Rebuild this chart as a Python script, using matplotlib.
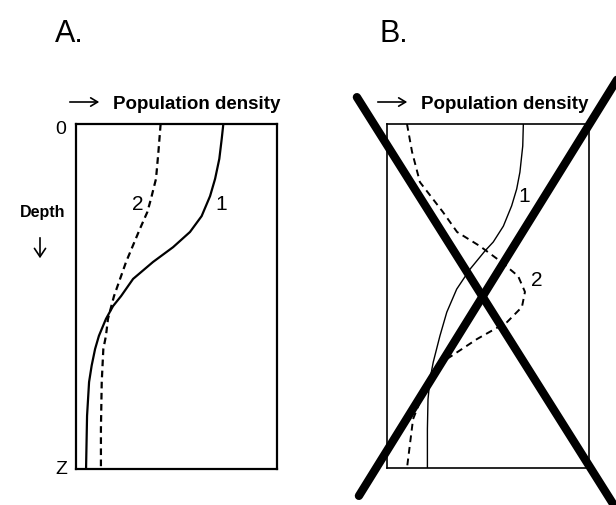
import matplotlib
matplotlib.use("Agg")
import matplotlib.pyplot as plt

plt.rcParams["font.family"] = ["Liberation Sans", "DejaVu Sans"]

W, H = 616, 506

# depth (0 = surface, 1 = bottom z) and relative density
depth_a1 = [0.0, 0.043, 0.101, 0.159, 0.209, 0.267, 0.313, 0.357, 0.400,
            0.449, 0.499, 0.528, 0.565, 0.614, 0.652, 0.700, 0.748, 0.846, 1.0]
dens_a1 = [0.733, 0.725, 0.713, 0.692, 0.667, 0.625, 0.567, 0.483, 0.383,
           0.284, 0.224, 0.184, 0.149, 0.114, 0.095, 0.078, 0.065, 0.055, 0.05]
depth_a2 = [0.0, 0.081, 0.159, 0.217, 0.255, 0.304, 0.400, 0.499, 0.565, 0.614,
            0.652, 0.748, 0.884, 1.0]
dens_a2 = [0.421, 0.41, 0.398, 0.373, 0.355, 0.318, 0.249, 0.189, 0.159, 0.149,
           0.136, 0.128, 0.124, 0.124]

depth_b1 = [0.0, 0.064, 0.14, 0.189, 0.238, 0.297, 0.343, 0.369, 0.422, 0.48,
            0.547, 0.616, 0.692, 0.741, 0.80, 0.887, 1.0]
dens_b1 = [0.675, 0.672, 0.658, 0.642, 0.617, 0.576, 0.526, 0.485, 0.411, 0.345,
           0.296, 0.262, 0.229, 0.213, 0.203, 0.20, 0.20]
depth_b2 = [0.0, 0.081, 0.169, 0.256, 0.314, 0.355, 0.398, 0.442, 0.488, 0.532,
            0.576, 0.625, 0.683, 0.733, 0.858, 1.0]
dens_b2 = [0.099, 0.124, 0.163, 0.277, 0.347, 0.46, 0.559, 0.649, 0.683, 0.668,
           0.594, 0.446, 0.297, 0.213, 0.129, 0.099]

# the two strokes crossing out panel B, in panel B units
cross1_x = [-0.149, 1.163]
cross1_y = [-0.078, 1.145]
cross2_x = [-0.139, 1.178]
cross2_y = [1.081, -0.166]


def px(x, y):
    return x / W, 1 - y / H


fig = plt.figure(figsize=(W / 100, H / 100), dpi=100)

axA = fig.add_axes([76 / W, 1 - 470 / H, 201 / W, 345 / H])
axB = fig.add_axes([387 / W, 1 - 469 / H, 202 / W, 344 / H])

for ax, lw in ((axA, 1.6), (axB, 1.2)):
    ax.set_xlim(0, 1)
    ax.set_ylim(1, 0)
    ax.set_xticks([])
    ax.set_yticks([])
    for s in ax.spines.values():
        s.set_linewidth(lw)
        s.set_color("black")

axA.plot(dens_a1, depth_a1, color="black", lw=1.6)
axA.plot(dens_a2, depth_a2, color="black", lw=1.6, ls=(0, (3, 2)))
axB.plot(dens_b1, depth_b1, color="black", lw=1.0)
axB.plot(dens_b2, depth_b2, color="black", lw=1.4, ls=(0, (3.5, 2.5)))

axB.plot(cross1_x, cross1_y, color="black", lw=6, solid_capstyle="round", clip_on=False)
axB.plot(cross2_x, cross2_y, color="black", lw=6, solid_capstyle="round", clip_on=False)

# curve labels
fig.text(*px(138, 204), "2", fontsize=15, ha="center", va="center")
fig.text(*px(221, 204), "1", fontsize=15, ha="center", va="center")
fig.text(*px(524, 197), "1", fontsize=15, ha="center", va="center")
fig.text(*px(537, 280), "2", fontsize=15, ha="center", va="center")

# panel letters
fig.text(*px(55, 42), "A.", fontsize=22, ha="left", va="baseline")
fig.text(*px(380, 42), "B.", fontsize=22, ha="left", va="baseline")

# axis captions
for x0, xt in ((67, 113), (375, 421)):
    fig.text(*px(xt, 109), "Population density", fontsize=13.5, ha="left",
             va="baseline", fontweight="bold")
    fig.add_artist(matplotlib.patches.FancyArrowPatch(
        px(x0, 103), px(x0 + 35, 103), transform=fig.transFigure,
        arrowstyle="->,head_length=5,head_width=3", lw=1.2, color="black",
        mutation_scale=1))

fig.text(*px(61, 130), "0", fontsize=14, ha="center", va="center")
fig.text(*px(61, 470), "Z", fontsize=14, ha="center", va="center")
fig.text(*px(43, 213), "Depth", fontsize=11.5, ha="center", va="center",
         fontweight="bold")
fig.add_artist(matplotlib.patches.FancyArrowPatch(
    px(40, 236), px(40, 262), transform=fig.transFigure,
    arrowstyle="->,head_length=6,head_width=4", lw=1.2, color="black",
    mutation_scale=1))

fig.savefig("out.png", dpi=100)
